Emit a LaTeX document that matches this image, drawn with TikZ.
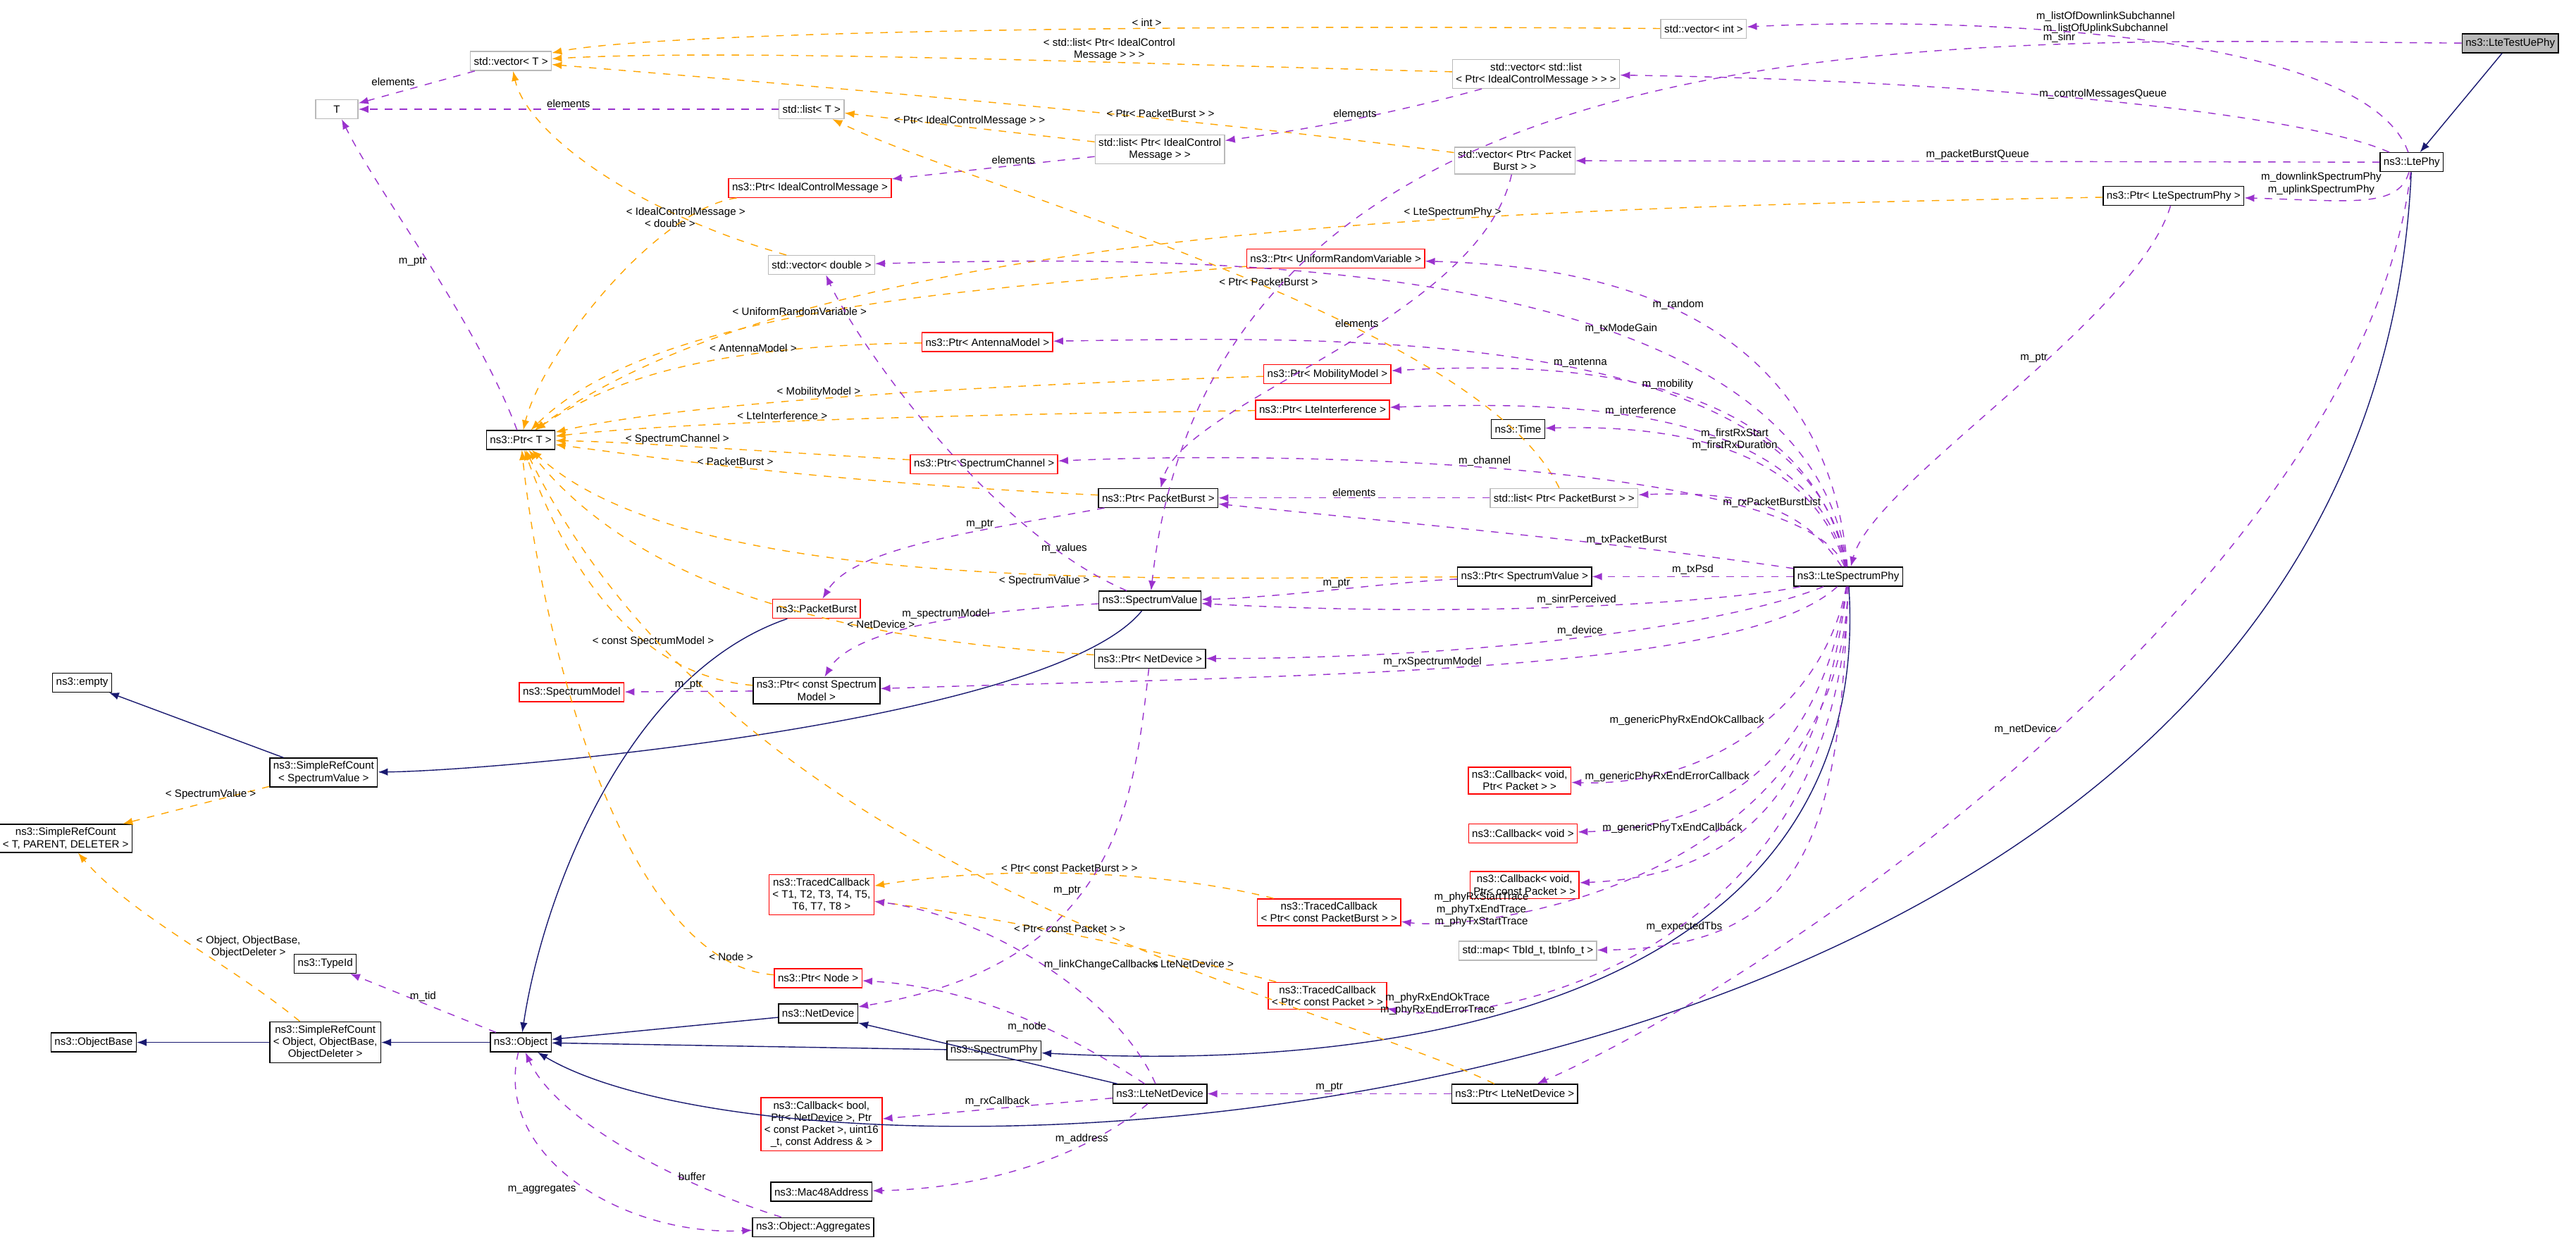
\documentclass[tikz,border=0pt]{standalone}
\usepackage{fontspec}
\setmainfont{Liberation Sans}
\usetikzlibrary{arrows.meta}
\definecolor{UseEdge}{HTML}{9A32CD}
\definecolor{TplEdge}{HTML}{FFA500}
\definecolor{InhEdge}{HTML}{191970}
\tikzset{
  box/.style={draw=black, fill=white, align=center, inner sep=1.4pt, minimum height=0.27cm, font=\fontsize{4.3}{4.9}\selectfont},
  redbox/.style={box, draw=red},
  greybox/.style={box, draw=gray!55},
  curbox/.style={box, fill=gray!55},
  uses/.style={draw=UseEdge, dashed, -{Latex[length=4pt,width=3pt]}},
  tpl/.style={draw=TplEdge, dashed, -{Latex[length=4pt,width=3pt]}},
  inh/.style={draw=InhEdge, -{Latex[length=4pt,width=3pt]}},
  lbl/.style={font=\fontsize{4.3}{4.9}\selectfont, align=center, inner sep=0.5pt, text=black}
}
\begin{document}
\begin{tikzpicture}[x=0.02332cm, y=-0.0228cm]
  \useasboundingbox (0,0) rectangle (1568,776);
  % Nodes
  \node[curbox] (testue) at (1528,27) {ns3::LteTestUePhy};
  \node[box] (ltephy) at (1468,101) {ns3::LtePhy};
  \node[box] (ptrlsp) at (1323,122) {ns3::Ptr< LteSpectrumPhy >};
  \node[box] (lsp) at (1125,359) {ns3::LteSpectrumPhy};
  \node[greybox] (vecint) at (1037,18) {std::vector< int >};
  \node[greybox] (veclist) at (935,46) {std::vector< std::list\\< Ptr< IdealControlMessage > > >};
  \node[greybox] (vecpb) at (922,100) {std::vector< Ptr< Packet\\Burst > >};
  \node[greybox] (listicm) at (706,93) {std::list< Ptr< IdealControl\\Message > >};
  \node[greybox] (vect) at (311,38) {std::vector< T >};
  \node[greybox, minimum width=0.6cm] (tt) at (205,68) {T};
  \node[greybox] (listt) at (494,68) {std::list< T >};
  \node[redbox] (ptricm) at (493,117) {ns3::Ptr< IdealControlMessage >};
  \node[greybox] (vecdbl) at (500,165) {std::vector< double >};
  \node[redbox] (ptrurv) at (813,161) {ns3::Ptr< UniformRandomVariable >};
  \node[redbox] (ptrant) at (601,213) {ns3::Ptr< AntennaModel >};
  \node[redbox] (ptrmob) at (808,233) {ns3::Ptr< MobilityModel >};
  \node[redbox] (ptrint) at (805,255) {ns3::Ptr< LteInterference >};
  \node[box] (ptrt) at (317,274) {ns3::Ptr< T >};
  \node[redbox] (ptrchan) at (599,289) {ns3::Ptr< SpectrumChannel >};
  \node[box] (time) at (924,267) {ns3::Time};
  \node[box] (ptrpb) at (705,310) {ns3::Ptr< PacketBurst >};
  \node[greybox] (listpb) at (952,310) {std::list< Ptr< PacketBurst > >};
  \node[box] (ptrsv) at (928,359) {ns3::Ptr< SpectrumValue >};
  \node[box] (sv) at (700,374) {ns3::SpectrumValue};
  \node[redbox] (pb) at (497,379) {ns3::PacketBurst};
  \node[box] (ptrnd) at (700,410) {ns3::Ptr< NetDevice >};
  \node[box] (ptrsm) at (497,430) {ns3::Ptr< const Spectrum\\Model >};
  \node[redbox] (sm) at (348,431) {ns3::SpectrumModel};
  \node[box] (empty) at (50,425) {ns3::empty};
  \node[box] (srcsv) at (197,481) {ns3::SimpleRefCount\\< SpectrumValue >};
  \node[box] (srct) at (40,522) {ns3::SimpleRefCount\\< T, PARENT, DELETER >};
  \node[redbox] (cbpkt) at (925,486) {ns3::Callback< void,\\Ptr< Packet > >};
  \node[redbox] (cbvoid) at (927,519) {ns3::Callback< void >};
  \node[redbox] (cbcpkt) at (928,551) {ns3::Callback< void,\\Ptr< const Packet > >};
  \node[greybox] (tbmap) at (930,592) {std::map< TbId\_t, tbInfo\_t >};
  \node[redbox] (tct) at (500,557) {ns3::TracedCallback\\< T1, T2, T3, T4, T5,\\T6, T7, T8 >};
  \node[redbox] (tcpb) at (809,568) {ns3::TracedCallback\\< Ptr< const PacketBurst > >};
  \node[redbox] (tcpkt) at (808,620) {ns3::TracedCallback\\< Ptr< const Packet > >};
  \node[box] (typeid) at (198,600) {ns3::TypeId};
  \node[box] (objbase) at (57,649) {ns3::ObjectBase};
  \node[box] (srcobj) at (198,649) {ns3::SimpleRefCount\\< Object, ObjectBase,\\ObjectDeleter >};
  \node[box] (obj) at (317,649) {ns3::Object};
  \node[redbox] (ptrnode) at (498,609) {ns3::Ptr< Node >};
  \node[box] (nd) at (498,631) {ns3::NetDevice};
  \node[box] (sphy) at (605,654) {ns3::SpectrumPhy};
  \node[redbox] (cbbool) at (500,700) {ns3::Callback< bool,\\Ptr< NetDevice >, Ptr\\< const Packet >, uint16\\\_t, const Address \& >};
  \node[box] (lnd) at (706,681) {ns3::LteNetDevice};
  \node[box] (ptrlnd) at (922,681) {ns3::Ptr< LteNetDevice >};
  \node[box] (mac) at (500,742) {ns3::Mac48Address};
  \node[box] (aggr) at (495,764) {ns3::Object::Aggregates};

  % Inheritance
  \draw[inh] (testue) -- (ltephy);
  \draw[inh] (ltephy) .. controls (1440,720) and (500,760) .. (obj);
  \draw[inh] (lsp) .. controls (1140,600) and (900,670) .. (sphy);
  \draw[inh] (sphy) -- (obj);
  \draw[inh] (sv) .. controls (640,450) and (300,480) .. (srcsv);
  \draw[inh] (pb) .. controls (380,420) and (330,560) .. (obj);
  \draw[inh] (nd) -- (obj);
  \draw[inh] (lnd) -- (nd);
  \draw[inh] (srcsv) -- (empty);
  \draw[inh] (srcobj) -- (objbase);
  \draw[inh] (obj) -- (srcobj);

  % Templates
  \draw[tpl] (vecint) .. controls (700,15) and (400,20) .. (vect) node[lbl, pos=0.35, above] {< int >};
  \draw[tpl] (veclist) .. controls (700,40) and (450,30) .. (vect) node[lbl, pos=0.35, above] {< std::list< Ptr< IdealControl\\Message > > >};
  \draw[tpl] (vecpb) .. controls (700,70) and (450,50) .. (vect) node[lbl, pos=0.3, above] {< Ptr< PacketBurst > >};
  \draw[tpl] (listicm) -- (listt) node[lbl, midway, above] {< Ptr< IdealControlMessage > >};
  \draw[tpl] (listpb) .. controls (900,200) and (600,120) .. (listt) node[lbl, pos=0.45, above] {< Ptr< PacketBurst >};
  \draw[tpl] (vecdbl) .. controls (380,130) and (320,80) .. (vect) node[lbl, pos=0.2, left] {< double >};
  \draw[tpl] (ptricm) .. controls (400,130) and (330,220) .. (ptrt) node[lbl, pos=0.2, above] {< IdealControlMessage >};
  \draw[tpl] (ptrlsp) .. controls (900,130) and (500,140) .. (ptrt) node[lbl, pos=0.35, above] {< LteSpectrumPhy >};
  \draw[tpl] (ptrurv) .. controls (600,180) and (400,190) .. (ptrt) node[lbl, pos=0.55, above] {< UniformRandomVariable >};
  \draw[tpl] (ptrant) .. controls (450,215) and (380,230) .. (ptrt) node[lbl, pos=0.35, above] {< AntennaModel >};
  \draw[tpl] (ptrmob) .. controls (600,240) and (420,250) .. (ptrt) node[lbl, pos=0.55, above] {< MobilityModel >};
  \draw[tpl] (ptrint) .. controls (600,258) and (420,262) .. (ptrt) node[lbl, pos=0.6, above] {< LteInterference >};
  \draw[tpl] (ptrchan) .. controls (450,280) and (380,275) .. (ptrt) node[lbl, pos=0.55, above] {< SpectrumChannel >};
  \draw[tpl] (ptrpb) .. controls (500,300) and (400,285) .. (ptrt) node[lbl, pos=0.55, above] {< PacketBurst >};
  \draw[tpl] (ptrsv) .. controls (700,360) and (420,370) .. (ptrt) node[lbl, pos=0.4, below] {< SpectrumValue >};
  \draw[tpl] (ptrnd) .. controls (550,400) and (400,380) .. (ptrt) node[lbl, pos=0.35, above] {< NetDevice >};
  \draw[tpl] (ptrsm) .. controls (380,420) and (340,340) .. (ptrt) node[lbl, pos=0.3, above] {< const SpectrumModel >};
  \draw[tpl] (ptrnode) .. controls (380,600) and (330,400) .. (ptrt) node[lbl, pos=0.1, above] {< Node >};
  \draw[tpl] (ptrlnd) .. controls (800,620) and (450,550) .. (ptrt) node[lbl, pos=0.35, above] {< LteNetDevice >};
  \draw[tpl] (srcsv) -- (srct) node[lbl, pos=0.4, above] {< SpectrumValue >};
  \draw[tpl] (srcobj) .. controls (140,600) and (80,570) .. (srct) node[lbl, pos=0.45, right] {< Object, ObjectBase,\\ObjectDeleter >};
  \draw[tpl] (tcpb) .. controls (700,540) and (600,540) .. (tct) node[lbl, pos=0.5, above] {< Ptr< const PacketBurst > >};
  \draw[tpl] (tcpkt) .. controls (700,590) and (600,570) .. (tct) node[lbl, pos=0.5, above] {< Ptr< const Packet > >};

  % Usage
  \draw[uses] (ltephy) .. controls (1440,20) and (1200,10) .. (vecint) node[lbl, pos=0.55, above] {m\_listOfDownlinkSubchannel\\m\_listOfUplinkSubchannel};
  \draw[uses] (testue) .. controls (1200,25) and (740,0) .. (sv) node[lbl, pos=0.25, above] {m\_sinr};
  \draw[uses] (ltephy) .. controls (1400,70) and (1200,50) .. (veclist) node[lbl, pos=0.5, above] {m\_controlMessagesQueue};
  \draw[uses] (ltephy) -- (vecpb) node[lbl, midway, above] {m\_packetBurstQueue};
  \draw[uses] (ltephy) .. controls (1460,130) and (1430,125) .. (ptrlsp) node[lbl, pos=0.35, above left] {m\_downlinkSpectrumPhy\\m\_uplinkSpectrumPhy};
  \draw[uses] (ltephy) .. controls (1440,350) and (1100,600) .. (ptrlnd) node[lbl, pos=0.5, left] {m\_netDevice};
  \draw[uses] (ptrlsp) .. controls (1300,200) and (1140,300) .. (lsp) node[lbl, pos=0.4, left] {m\_ptr};
  \draw[uses] (veclist) .. controls (850,70) and (800,80) .. (listicm) node[lbl, pos=0.5, above] {elements};
  \draw[uses] (vecpb) .. controls (900,200) and (720,250) .. (ptrpb) node[lbl, pos=0.4, left] {elements};
  \draw[uses] (listicm) -- (ptricm) node[lbl, pos=0.4, above] {elements};
  \draw[uses] (vect) -- (tt) node[lbl, midway, above left] {elements};
  \draw[uses] (listt) -- (tt) node[lbl, midway, above] {elements};
  \draw[uses] (ptrt) .. controls (290,200) and (230,120) .. (tt) node[lbl, pos=0.5, left] {m\_ptr};
  \draw[uses] (lsp) .. controls (1100,150) and (700,160) .. (vecdbl) node[lbl, pos=0.35, above] {m\_txModeGain};
  \draw[uses] (lsp) .. controls (1110,180) and (950,165) .. (ptrurv) node[lbl, pos=0.5, above] {m\_random};
  \draw[uses] (lsp) .. controls (1100,200) and (800,210) .. (ptrant) node[lbl, pos=0.45, above] {m\_antenna};
  \draw[uses] (lsp) .. controls (1100,230) and (950,225) .. (ptrmob) node[lbl, pos=0.5, above] {m\_mobility};
  \draw[uses] (lsp) .. controls (1100,250) and (950,250) .. (ptrint) node[lbl, pos=0.55, above] {m\_interference};
  \draw[uses] (lsp) .. controls (1100,270) and (1000,265) .. (time) node[lbl, pos=0.45, above] {m\_firstRxStart\\m\_firstRxDuration};
  \draw[uses] (lsp) .. controls (1100,290) and (800,280) .. (ptrchan) node[lbl, pos=0.55, above] {m\_channel};
  \draw[uses] (lsp) .. controls (1100,320) and (1070,305) .. (listpb) node[lbl, pos=0.5, above] {m\_rxPacketBurstList};
  \draw[uses] (lsp) .. controls (1000,340) and (900,330) .. (ptrpb) node[lbl, pos=0.35, above] {m\_txPacketBurst};
  \draw[uses, UseEdge] (lsp) -- (ptrsv) node[lbl, midway, above] {m\_txPsd};
  \draw[uses] (lsp) .. controls (1050,375) and (900,385) .. (sv) node[lbl, pos=0.5, above] {m\_sinrPerceived};
  \draw[uses] (lsp) .. controls (1050,390) and (900,410) .. (ptrnd) node[lbl, pos=0.5, above] {m\_device};
  \draw[uses] (lsp) .. controls (1060,420) and (800,420) .. (ptrsm) node[lbl, pos=0.55, above] {m\_rxSpectrumModel};
  \draw[uses] (lsp) .. controls (1110,440) and (1040,490) .. (cbpkt) node[lbl, pos=0.45, left] {m\_genericPhyRxEndOkCallback};
  \draw[uses] (lsp) .. controls (1110,460) and (1060,515) .. (cbvoid) node[lbl, pos=0.55, left] {m\_genericPhyRxEndErrorCallback};
  \draw[uses] (lsp) .. controls (1110,480) and (1070,545) .. (cbcpkt) node[lbl, pos=0.6, left] {m\_genericPhyTxEndCallback};
  \draw[uses] (lsp) .. controls (1120,520) and (1100,590) .. (tbmap) node[lbl, pos=0.75, left] {m\_expectedTbs};
  \draw[uses] (lsp) .. controls (1120,550) and (900,580) .. (tcpb) node[lbl, pos=0.7, left] {m\_phyRxStartTrace\\m\_phyTxEndTrace\\m\_phyTxStartTrace};
  \draw[uses] (lsp) .. controls (1120,600) and (900,640) .. (tcpkt) node[lbl, pos=0.75, left] {m\_phyRxEndOkTrace\\m\_phyRxEndErrorTrace};
  \draw[uses] (listpb) -- (ptrpb) node[lbl, midway, above] {elements};
  \draw[uses] (ptrpb) .. controls (600,330) and (520,340) .. (pb) node[lbl, pos=0.35, above] {m\_ptr};
  \draw[uses] (ptrsv) .. controls (850,362) and (780,372) .. (sv) node[lbl, pos=0.5, above] {m\_ptr};
  \draw[uses] (sv) .. controls (600,330) and (520,210) .. (vecdbl) node[lbl, pos=0.15, above] {m\_values};
  \draw[uses] (sv) .. controls (600,380) and (520,390) .. (ptrsm) node[lbl, pos=0.45, above] {m\_spectrumModel};
  \draw[uses] (ptrsm) -- (sm) node[lbl, midway, above] {m\_ptr};
  \draw[uses] (ptrnd) .. controls (690,500) and (680,600) .. (nd) node[lbl, pos=0.55, left] {m\_ptr};
  \draw[uses] (obj) -- (typeid) node[lbl, midway, above] {m\_tid};
  \draw[uses] (obj) .. controls (300,720) and (380,770) .. (aggr) node[lbl, pos=0.5, below left] {m\_aggregates};
  \draw[uses] (aggr) .. controls (420,740) and (340,700) .. (obj) node[lbl, pos=0.3, above] {buffer};
  \draw[uses] (lnd) .. controls (680,620) and (600,570) .. (tct) node[lbl, pos=0.5, right] {m\_linkChangeCallbacks};
  \draw[uses] (lnd) .. controls (660,650) and (600,615) .. (ptrnode) node[lbl, pos=0.5, below] {m\_node};
  \draw[uses] (lnd) -- (cbbool) node[lbl, midway, above] {m\_rxCallback};
  \draw[uses] (lnd) .. controls (660,720) and (600,740) .. (mac) node[lbl, pos=0.3, above] {m\_address};
  \draw[uses] (ptrlnd) -- (lnd) node[lbl, midway, above] {m\_ptr};
\end{tikzpicture}
\end{document}
